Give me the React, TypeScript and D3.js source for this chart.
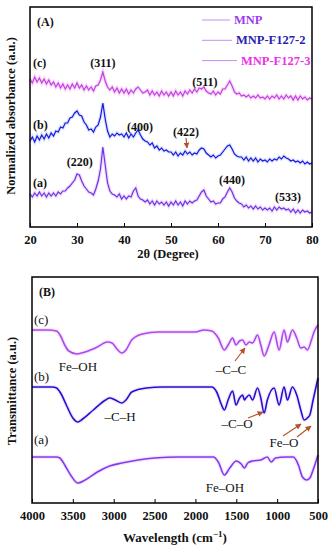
import React, { useEffect, useRef } from 'react';
import * as d3 from 'd3';

// XRD: 2θ from 20 to 80 in 0.5 steps, intensities
const twoTheta = d3.range(20, 80.25, 0.5);
const xrdC = [
  148, 144, 150, 145, 149, 144, 148, 143, 147, 142,
  145, 140, 144, 139, 143, 138, 142, 138, 143, 139,
  144, 139, 142, 137, 141, 137, 140, 136, 141, 142,
  147, 155, 146, 140, 137, 140, 135, 139, 134, 138,
  134, 138, 133, 137, 134, 138, 140, 137, 134, 135,
  137, 132, 136, 132, 135, 131, 136, 132, 135, 131,
  135, 131, 136, 132, 135, 131, 136, 133, 137, 134,
  138, 135, 139, 138, 140, 136, 134, 133, 136, 132,
  135, 133, 138, 138, 142, 146, 141, 135, 133, 134,
  131, 132, 130, 132, 129, 131, 129, 132, 129, 130,
  128, 131, 128, 131, 129, 132, 128, 131, 128, 132,
  129, 131, 127, 131, 127, 131, 128, 130, 127, 129,
  128,
];
const xrdB = [
  86, 90, 85, 91, 87, 92, 88, 93, 89, 94,
  91, 96, 95, 100, 99, 104, 104, 109, 110, 114,
  116, 112, 111, 105, 102, 97, 98, 95, 100, 102,
  110, 124, 108, 96, 90, 93, 91, 94, 92, 93,
  90, 94, 89, 93, 90, 94, 97, 92, 88, 86,
  85, 82, 84, 79, 81, 77, 79, 76, 77, 75,
  75, 72, 75, 71, 74, 72, 76, 73, 75, 72,
  74, 73, 77, 79, 78, 74, 72, 70, 72, 69,
  71, 72, 75, 78, 81, 82, 78, 73, 71, 70,
  70, 67, 70, 66, 69, 66, 69, 65, 68, 66,
  67, 65, 68, 66, 68, 67, 70, 68, 71, 69,
  68, 66, 67, 65, 66, 64, 66, 63, 65, 63,
  64,
];
const xrdA = [
  33, 30, 34, 31, 35, 31, 34, 30, 34, 31,
  34, 31, 35, 33, 36, 36, 39, 41, 44, 47,
  53, 52, 46, 41, 38, 35, 34, 32, 38, 46,
  58, 80, 62, 44, 36, 33, 32, 30, 33, 28,
  31, 28, 31, 30, 36, 39, 31, 28, 27, 25,
  27, 23, 26, 22, 26, 23, 25, 22, 25, 21,
  25, 22, 26, 22, 25, 21, 26, 23, 26, 24,
  26, 27, 31, 35, 37, 31, 28, 25, 26, 23,
  24, 24, 28, 30, 35, 39, 35, 29, 26, 24,
  23, 20, 22, 19, 21, 18, 21, 18, 20, 17,
  19, 17, 19, 16, 20, 17, 20, 18, 19, 17,
  18, 15, 18, 14, 17, 14, 17, 15, 16, 14,
  15,
];
const xrdTicks = [20, 30, 40, 50, 60, 70, 80];
const legendLabels = ['MNP', 'MNP-F127-2', 'MNP-F127-3'];

// FTIR: [wavenumber, transmittance]
const ftirC = [
  [4000, 173], [3800, 173], [3700, 172], [3650, 167], [3600, 158], [3550, 152],
  [3450, 149], [3350, 151], [3200, 156], [3080, 161], [3020, 160], [2960, 154],
  [2900, 150], [2850, 153], [2780, 163], [2650, 169], [2450, 171], [2200, 171],
  [2000, 171], [1900, 173], [1800, 172], [1720, 165], [1646, 153], [1600, 158],
  [1545, 165], [1504, 158], [1460, 162], [1423, 163], [1382, 158], [1341, 161],
  [1301, 160], [1240, 168], [1200, 158], [1159, 147], [1100, 158], [1037, 171],
  [976, 153], [915, 173], [874, 161], [813, 173], [760, 165], [711, 155],
  [670, 156], [630, 153], [580, 163], [549, 171], [500, 178],
];
const ftirB = [
  [4000, 116], [3750, 116], [3700, 115], [3650, 110], [3580, 98], [3500, 85],
  [3440, 81], [3380, 84], [3250, 93], [3100, 103], [3050, 105], [2980, 103],
  [2900, 100], [2850, 103], [2780, 111], [2600, 115], [2400, 116], [2000, 116],
  [1800, 116], [1740, 111], [1680, 98], [1646, 93], [1600, 103], [1545, 112],
  [1504, 98], [1460, 105], [1423, 108], [1400, 103], [1382, 105], [1341, 108],
  [1301, 103], [1240, 115], [1200, 105], [1159, 90], [1120, 103], [1037, 115],
  [976, 98], [915, 116], [874, 103], [813, 116], [760, 108], [711, 93],
  [670, 83], [630, 85], [600, 88], [560, 103], [500, 125],
];
const ftirA = [
  [4000, 46], [3700, 46], [3660, 45], [3600, 38], [3520, 27], [3440, 20],
  [3350, 23], [3200, 31], [3050, 37], [2900, 40], [2700, 43], [2500, 45],
  [2200, 46], [1900, 46], [1780, 46], [1720, 41], [1646, 28], [1580, 35],
  [1500, 42], [1440, 39], [1400, 35], [1360, 40], [1300, 42], [1200, 43],
  [1120, 46], [1073, 41], [1020, 45], [900, 46], [800, 46], [740, 38],
  [690, 26], [640, 23], [600, 25], [560, 33], [500, 48],
];
const ftirTicks = [4000, 3500, 3000, 2500, 2000, 1500, 1000, 500];

const font = "'Liberation Serif', 'Times New Roman', serif";
const arrowColor = '#b4532a';

export default function App() {
  const ref = useRef<SVGSVGElement>(null);

  useEffect(() => {
    const svg = d3.select(ref.current);
    svg.selectAll('*').remove();

    svg.append('defs').append('marker')
      .attr('id', 'ah')
      .attr('viewBox', '0 0 10 10')
      .attr('refX', 9).attr('refY', 5)
      .attr('markerWidth', 5).attr('markerHeight', 5)
      .attr('orient', 'auto')
      .append('path').attr('d', 'M0,0L10,5L0,10z').attr('fill', arrowColor);

    const arrow = (x1, y1, x2, y2) => {
      svg.append('line')
        .attr('x1', x1).attr('y1', y1).attr('x2', x2).attr('y2', y2)
        .attr('stroke', arrowColor).attr('stroke-width', 1.2)
        .attr('marker-end', 'url(#ah)');
    };
    const label = (t, x, y, opts: any = {}) => {
      svg.append('text')
        .attr('x', x).attr('y', y)
        .attr('font-family', font)
        .attr('font-size', opts.size || 12)
        .attr('font-weight', opts.bold === false ? 'normal' : 'bold')
        .attr('text-anchor', opts.anchor || 'middle')
        .attr('fill', opts.fill || '#111')
        .attr('transform', opts.rotate ? `rotate(-90,${x},${y})` : null)
        .text(t);
    };

    // ---------- panel A (XRD)
    const xA = d3.scaleLinear().domain([20, 80]).range([30, 312]);
    const yA = d3.scaleLinear().domain([0, 220]).range([227, 7]);
    const xrdColors = ['#5c3aea', '#1818e0', '#c040e4'];
    const haloA = ['#f2b0ee', '#b8c8f8', '#f6b4f0'];
    const lineA = d3.line<number>()
      .x((d, i) => xA(twoTheta[i]))
      .y((d) => yA(d));
    [xrdA, xrdB, xrdC].forEach((s, i) => {
      svg.append('path').attr('d', lineA(s))
        .attr('fill', 'none').attr('stroke', haloA[i]).attr('stroke-width', 3.5).attr('opacity', 0.5);
      svg.append('path').attr('d', lineA(s))
        .attr('fill', 'none').attr('stroke', xrdColors[i]).attr('stroke-width', 1.2);
    });

    svg.append('rect').attr('x', 30).attr('y', 7).attr('width', 282).attr('height', 220)
      .attr('fill', 'none').attr('stroke', '#000').attr('stroke-width', 1.5);
    const axA = svg.append('g').attr('transform', 'translate(0,227)')
      .call(d3.axisBottom(xA).tickValues(xrdTicks).tickSizeInner(-4).tickSizeOuter(0).tickPadding(8));
    axA.select('.domain').remove();
    axA.selectAll('text').attr('font-family', font).attr('font-size', 12.5).attr('font-weight', 'bold').attr('fill', '#111');

    label('2θ (Degree)', 168, 258, { size: 12.5 });
    label('Normalized absorbance (a.u.)', 15, 116, { size: 12.5, rotate: true });
    label('(A)', 37, 26, { anchor: 'start' });

    // legend
    const legColors = ['#9b3cf5', '#2a22b0', '#ee30ea'];
    const legEnd = [230, 232, 237];
    legendLabels.forEach((t, i) => {
      const y = 20 + i * 20.3;
      svg.append('line').attr('x1', 202).attr('x2', legEnd[i]).attr('y1', y).attr('y2', y)
        .attr('stroke', '#c98cf5').attr('stroke-width', 1);
      label(t, legEnd[i] + 4, y + 4, { anchor: 'start', fill: legColors[i], size: 12.5 });
    });

    label('(c)', 33, 67, { anchor: 'start' });
    label('(311)', xA(35.5), 67);
    label('(511)', xA(57.2), 86);
    label('(b)', 33, 129, { anchor: 'start' });
    label('(400)', xA(43.4), 131);
    label('(422)', xA(53.2), 136);
    arrow(xA(53.2), 138, xA(53.4), 148);
    label('(220)', xA(30.6), 166);
    label('(a)', 33, 187, { anchor: 'start' });
    label('(440)', xA(63), 184);
    label('(533)', xA(74.9), 201);

    // ---------- panel B (FTIR)
    const xB = d3.scaleLinear().domain([4000, 500]).range([32, 318]);
    const yB = d3.scaleLinear().domain([0, 226]).range([503, 277]);
    const ftirColors = ['#7a3ff2', '#1a14d4', '#a54cf2'];
    const lineB = d3.line<number[]>()
      .curve(d3.curveMonotoneX)
      .x((d) => xB(d[0]))
      .y((d) => yB(d[1]));
    [ftirA, ftirB, ftirC].forEach((s, i) => {
      svg.append('path').attr('d', lineB(s))
        .attr('fill', 'none').attr('stroke', '#f6c2f0').attr('stroke-width', 4).attr('opacity', 0.45);
      svg.append('path').attr('d', lineB(s))
        .attr('fill', 'none').attr('stroke', ftirColors[i]).attr('stroke-width', 1.6);
    });

    svg.append('rect').attr('x', 32).attr('y', 277).attr('width', 286).attr('height', 226)
      .attr('fill', 'none').attr('stroke', '#000').attr('stroke-width', 1.5);
    const axB = svg.append('g').attr('transform', 'translate(0,503)')
      .call(d3.axisBottom(xB).tickValues(ftirTicks).tickFormat(d3.format('d')).tickSizeInner(-4).tickSizeOuter(0).tickPadding(8));
    axB.select('.domain').remove();
    axB.selectAll('text').attr('font-family', font).attr('font-size', 12.5).attr('font-weight', 'bold').attr('fill', '#111');

    svg.append('text')
      .attr('x', 175).attr('y', 542)
      .attr('font-family', font).attr('font-size', 13).attr('font-weight', 'bold')
      .attr('text-anchor', 'middle').attr('fill', '#111')
      .call((t) => {
        t.append('tspan').text('Wavelength (cm');
        t.append('tspan').attr('dy', -5).attr('font-size', 9).text('−1');
        t.append('tspan').attr('dy', 5).text(')');
      });
    label('Transmittance (a.u.)', 16, 391, { size: 12.5, rotate: true });
    label('(B)', 39, 296, { anchor: 'start' });

    const reg = { bold: false, size: 13 };
    label('(c)', 34, 324, { anchor: 'start', bold: false, size: 13 });
    label('Fe–OH', 78, 371, reg);
    label('(b)', 34, 381, { anchor: 'start', bold: false, size: 13 });
    label('–C–C', 231, 374, reg);
    arrow(235, 361, 245, 348);
    label('–C–H', 120, 421, reg);
    label('(a)', 34, 444, { anchor: 'start', bold: false, size: 13 });
    label('–C–O', 237, 428, reg);
    arrow(248, 418, 263, 412);
    label('Fe–O', 284, 447, reg);
    arrow(283, 436, 301, 424);
    arrow(297, 437, 311, 426);
    label('Fe–OH', 225, 492, reg);
  }, []);

  return (
    <svg ref={ref} width={330} height={550}
      style={{ position: 'absolute', left: 0, top: 0, background: '#fff' }} />
  );
}
